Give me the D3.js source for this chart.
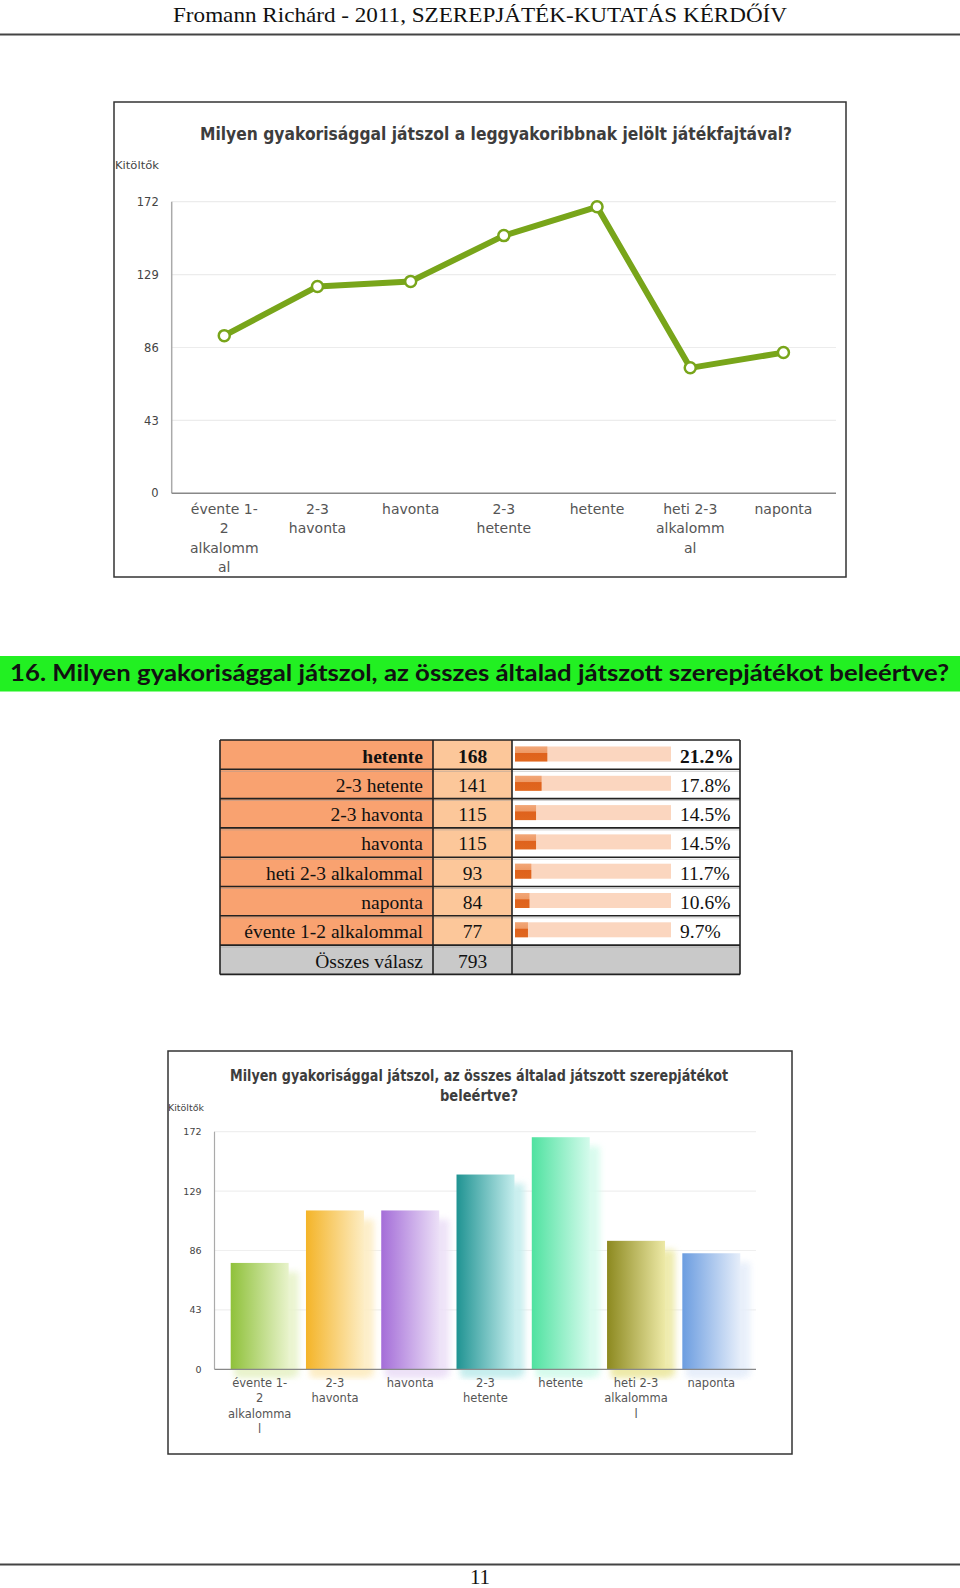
<!DOCTYPE html>
<html>
<head>
<meta charset="utf-8">
<script src="https://cdn.jsdelivr.net/npm/d3@7"></script>
<style>
  html, body { margin: 0; padding: 0; background: #fff; }
  svg { display: block; }
</style>
</head>
<body>
<div id="chart"></div>
<script>
// ---------- DATA ----------
const headerText = "Fromann Richárd - 2011, SZEREPJÁTÉK-KUTATÁS KÉRDŐÍV";
const pageNumber = "11";

// Line chart (leggyakoribbnak jelölt játékfajta)
const lineTitle = "Milyen gyakorisággal játszol a leggyakoribbnak jelölt játékfajtával?";
const lineCategories = ["évente 1-2 alkalommal", "2-3 havonta", "havonta", "2-3 hetente", "hetente", "heti 2-3 alkalommal", "naponta"];
const lineLabelLines = [["évente 1-", "2", "alkalomm", "al"], ["2-3", "havonta"], ["havonta"], ["2-3", "hetente"], ["hetente"], ["heti 2-3", "alkalomm", "al"], ["naponta"]];
const lineValues = [93, 122, 125, 152, 169, 74, 83];

const yTicks = [0, 43, 86, 129, 172];
const yAxisTitle = "Kitöltők";

// Section heading
const sectionTitle = "16. Milyen gyakorisággal játszol, az összes általad játszott szerepjátékot beleértve?";

// Table
const tableLabels = ["hetente", "2-3 hetente", "2-3 havonta", "havonta", "heti 2-3 alkalommal", "naponta", "évente 1-2 alkalommal"];
const tableCounts = [168, 141, 115, 115, 93, 84, 77];
const tablePercents = [21.2, 17.8, 14.5, 14.5, 11.7, 10.6, 9.7];
const totalLabel = "Összes válasz";
const totalCount = 793;

// Bar chart
const barTitleLines = ["Milyen gyakorisággal játszol, az összes általad játszott szerepjátékot", "beleértve?"];
const barCategories = ["évente 1-2 alkalommal", "2-3 havonta", "havonta", "2-3 hetente", "hetente", "heti 2-3 alkalommal", "naponta"];
const barLabelLines = [["évente 1-", "2", "alkalomma", "l"], ["2-3", "havonta"], ["havonta"], ["2-3", "hetente"], ["hetente"], ["heti 2-3", "alkalomma", "l"], ["naponta"]];
const barValues = [77, 115, 115, 141, 168, 93, 84];
const barColorsDark = ["#8fc13a", "#f4b428", "#a46dd8", "#1f9392", "#4fe2a0", "#8c891f", "#6c9de0"];
const barColorsLight = ["#e8f3cb", "#fdedc4", "#ece0f7", "#c4eded", "#d4fbec", "#ede9a6", "#e6eefa"];

// ---------- DRAW ----------
const W = 960, H = 1588;
const svg = d3.select("#chart").append("svg").attr("width", W).attr("height", H)
  .attr("font-family", "DejaVu Sans, Verdana, sans-serif");
const defs = svg.append("defs");

// Header
svg.append("text").attr("x", 480).attr("y", 22).attr("text-anchor", "middle")
  .attr("font-family", "Liberation Serif, Times New Roman, serif").attr("font-size", 22)
  .attr("textLength", 614).attr("lengthAdjust", "spacingAndGlyphs").attr("fill", "#111")
  .text(headerText);
svg.append("line").attr("x1", 0).attr("x2", 960).attr("y1", 34.5).attr("y2", 34.5)
  .attr("stroke", "#444").attr("stroke-width", 2);

// ---------- Line chart ----------
{
  const box = {x: 114, y: 102, w: 732, h: 475};
  const g = svg.append("g");
  g.append("rect").attr("x", box.x).attr("y", box.y).attr("width", box.w).attr("height", box.h)
    .attr("fill", "#fff").attr("stroke", "#333").attr("stroke-width", 1.5);
  g.append("text").attr("x", 496).attr("y", 139.5).attr("text-anchor", "middle")
    .attr("font-size", 17.5).attr("font-weight", "bold").attr("fill", "#3d3d3d")
    .attr("textLength", 592).attr("lengthAdjust", "spacingAndGlyphs").text(lineTitle);
  g.append("text").attr("x", 115).attr("y", 169).attr("font-size", 11).attr("fill", "#444")
    .attr("textLength", 44).attr("lengthAdjust", "spacingAndGlyphs").text(yAxisTitle);

  const x0 = 171.7, x1 = 836;
  const y = d3.scaleLinear().domain([0, 172]).range([493.3, 201.7]);
  const x = d3.scalePoint().domain(lineCategories).range([x0, x1]).padding(0.564);

  g.selectAll(".grid").data(yTicks.filter(t => t > 0)).enter().append("line")
    .attr("x1", x0).attr("x2", x1).attr("y1", d => y(d)).attr("y2", d => y(d))
    .attr("stroke", "#ececec").attr("stroke-width", 1.2);

  const yAxis = d3.axisLeft(y).tickValues(yTicks).tickSize(0).tickPadding(13);
  const ya = g.append("g").attr("transform", `translate(${x0},0)`).call(yAxis);
  ya.select(".domain").remove();
  ya.selectAll("text").attr("font-size", 11.5).attr("fill", "#444").attr("font-family", "DejaVu Sans, sans-serif");

  g.append("line").attr("x1", x0).attr("x2", x0).attr("y1", y(172)).attr("y2", y(0))
    .attr("stroke", "#aaa").attr("stroke-width", 1.5);
  g.append("line").attr("x1", x0).attr("x2", x1).attr("y1", y(0)).attr("y2", y(0))
    .attr("stroke", "#888").attr("stroke-width", 1.5);

  // x labels
  lineCategories.forEach((c, i) => {
    const t = g.append("text").attr("text-anchor", "middle").attr("font-size", 14).attr("fill", "#555");
    lineLabelLines[i].forEach((ln, j) => {
      t.append("tspan").attr("x", x(c)).attr("y", 513.5 + j * 19.5).text(ln);
    });
  });

  const line = d3.line().x((d, i) => x(lineCategories[i])).y(d => y(d));
  g.append("path").datum(lineValues).attr("d", line).attr("fill", "none")
    .attr("stroke", "#78a51a").attr("stroke-width", 6).attr("stroke-linejoin", "round");
  g.selectAll(".pt").data(lineValues).enter().append("circle")
    .attr("cx", (d, i) => x(lineCategories[i])).attr("cy", d => y(d)).attr("r", 5.5)
    .attr("fill", "#fff").attr("stroke", "#78a51a").attr("stroke-width", 2.5);
}

// ---------- Section heading ----------
svg.append("rect").attr("x", 0).attr("y", 656).attr("width", 960).attr("height", 35.5).attr("fill", "#22f022");
svg.append("text").attr("x", 10).attr("y", 681).attr("font-family", "Lato, Open Sans, sans-serif")
  .attr("font-weight", "bold").attr("font-size", 23.5).attr("fill", "#111")
  .attr("textLength", 939).attr("lengthAdjust", "spacingAndGlyphs").text(sectionTitle);

// ---------- Table ----------
{
  const tx = 220, colW = [213, 79, 228], rowH = 29.3, ty = 740;
  const g = svg.append("g").attr("font-family", "Liberation Serif, Times New Roman, serif");
  const grad = defs.append("linearGradient").attr("id", "tbar").attr("x1", 0).attr("x2", 0).attr("y1", 0).attr("y2", 1);
  grad.append("stop").attr("offset", "0%").attr("stop-color", "#f2a778");
  grad.append("stop").attr("offset", "40%").attr("stop-color", "#ee9a66");
  grad.append("stop").attr("offset", "45%").attr("stop-color", "#df621c");
  grad.append("stop").attr("offset", "100%").attr("stop-color", "#e0671f");
  const bw = d3.scaleLinear().domain([2, 100]).range([0, 165]);
  const cx1 = tx + colW[0], cx2 = cx1 + colW[1], cx3 = cx2 + colW[2];

  tableLabels.forEach((lab, i) => {
    const ry = ty + i * rowH;
    const bold = i === 0 ? "bold" : "normal";
    g.append("rect").attr("x", tx).attr("y", ry).attr("width", colW[0]).attr("height", rowH).attr("fill", "#f9a270");
    g.append("rect").attr("x", cx1).attr("y", ry).attr("width", colW[1]).attr("height", rowH).attr("fill", "#fcc79a");
    g.append("rect").attr("x", cx2).attr("y", ry).attr("width", colW[2]).attr("height", rowH).attr("fill", "#fff");
    g.append("rect").attr("x", cx2 + 3).attr("y", ry + 6.5).attr("width", 156).attr("height", 15).attr("fill", "#fbd6bf");
    g.append("rect").attr("x", cx2 + 3).attr("y", ry + 6.5).attr("width", bw(tablePercents[i])).attr("height", 15).attr("fill", "url(#tbar)");
    g.append("text").attr("x", cx1 - 10).attr("y", ry + 22.5).attr("text-anchor", "end").attr("font-size", 19.5)
      .attr("font-weight", bold).attr("fill", "#111").text(lab);
    g.append("text").attr("x", (cx1 + cx2) / 2).attr("y", ry + 22.5).attr("text-anchor", "middle").attr("font-size", 19.5)
      .attr("font-weight", bold).attr("fill", "#111").text(tableCounts[i]);
    g.append("text").attr("x", cx2 + 168).attr("y", ry + 22.5).attr("font-size", 19.5)
      .attr("font-weight", bold).attr("fill", "#111").text(tablePercents[i].toFixed(1) + "%");
  });
  const ry = ty + tableLabels.length * rowH;
  g.append("rect").attr("x", tx).attr("y", ry).attr("width", colW[0] + colW[1] + colW[2]).attr("height", rowH).attr("fill", "#c9c9c9");
  g.append("text").attr("x", cx1 - 10).attr("y", ry + 22.5).attr("text-anchor", "end").attr("font-size", 19.5).attr("fill", "#111").text(totalLabel);
  g.append("text").attr("x", (cx1 + cx2) / 2).attr("y", ry + 22.5).attr("text-anchor", "middle").attr("font-size", 19.5).attr("fill", "#111").text(totalCount);

  const nRows = tableLabels.length + 1;
  for (let r = 0; r <= nRows; r++) {
    const yy = ty + r * rowH;
    g.append("line").attr("x1", tx).attr("x2", cx3).attr("y1", yy).attr("y2", yy).attr("stroke", "#222").attr("stroke-width", 1.6);
    if (r > 0 && r < nRows) {
      g.append("line").attr("x1", tx).attr("x2", cx3).attr("y1", yy + 2).attr("y2", yy + 2).attr("stroke", "#999").attr("stroke-width", 0.8).attr("opacity", 0.6);
    }
  }
  [tx, cx1, cx2, cx3].forEach(xx => {
    g.append("line").attr("x1", xx).attr("x2", xx).attr("y1", ty).attr("y2", ty + nRows * rowH).attr("stroke", "#222").attr("stroke-width", 1.6);
  });
}

// ---------- Bar chart ----------
{
  const box = {x: 168, y: 1051, w: 624, h: 403};
  const g = svg.append("g");
  g.append("rect").attr("x", box.x).attr("y", box.y).attr("width", box.w).attr("height", box.h)
    .attr("fill", "#fff").attr("stroke", "#333").attr("stroke-width", 1.5);
  g.append("text").attr("x", 479).attr("y", 1080.5).attr("text-anchor", "middle")
    .attr("font-size", 15).attr("font-weight", "bold").attr("fill", "#3d3d3d")
    .attr("textLength", 498).attr("lengthAdjust", "spacingAndGlyphs").text(barTitleLines[0]);
  g.append("text").attr("x", 479).attr("y", 1100.5).attr("text-anchor", "middle")
    .attr("font-size", 15).attr("font-weight", "bold").attr("fill", "#3d3d3d")
    .attr("textLength", 78).attr("lengthAdjust", "spacingAndGlyphs").text(barTitleLines[1]);
  g.append("text").attr("x", 168).attr("y", 1111).attr("font-size", 9.5).attr("fill", "#444")
    .attr("textLength", 36).attr("lengthAdjust", "spacingAndGlyphs").text(yAxisTitle);

  const x0 = 214.5, x1 = 756;
  const y = d3.scaleLinear().domain([0, 172]).range([1369.3, 1131.7]);
  const step = 75.27;
  const x = d3.scaleBand().domain(barCategories).range([230.7 - 0.115 * step, 230.7 - 0.115 * step + 7 * step])
    .paddingInner(0.23).paddingOuter(0.115);

  g.selectAll(".grid").data(yTicks.filter(t => t > 0)).enter().append("line")
    .attr("x1", x0).attr("x2", x1).attr("y1", d => y(d)).attr("y2", d => y(d))
    .attr("stroke", "#efefef").attr("stroke-width", 1.2);

  const yAxis = d3.axisLeft(y).tickValues(yTicks).tickSize(0).tickPadding(13);
  const ya = g.append("g").attr("transform", `translate(${x0},0)`).call(yAxis);
  ya.select(".domain").remove();
  ya.selectAll("text").attr("font-size", 9.5).attr("fill", "#444").attr("font-family", "DejaVu Sans, sans-serif");

  const blur = defs.append("filter").attr("id", "blur").attr("x", "-30%").attr("y", "-10%").attr("width", "160%").attr("height", "130%");
  blur.append("feGaussianBlur").attr("stdDeviation", 3);

  barCategories.forEach((c, i) => {
    const gr = defs.append("linearGradient").attr("id", "bg" + i).attr("x1", 0).attr("x2", 1).attr("y1", 0).attr("y2", 0);
    gr.append("stop").attr("offset", "0%").attr("stop-color", barColorsDark[i]);
    gr.append("stop").attr("offset", "100%").attr("stop-color", barColorsLight[i]);
  });

  g.selectAll(".shadow").data(barValues).enter().append("rect")
    .attr("x", (d, i) => x(barCategories[i]) + 6).attr("y", d => y(d) + 9)
    .attr("width", x.bandwidth() + 4).attr("height", d => y(0) - y(d) - 2)
    .attr("fill", (d, i) => barColorsLight[i]).attr("opacity", 0.9).attr("filter", "url(#blur)");
  g.selectAll(".glow").data(barValues).enter().append("rect")
    .attr("x", (d, i) => x(barCategories[i]) + 4).attr("y", y(0) - 4)
    .attr("width", x.bandwidth()).attr("height", 12)
    .attr("fill", (d, i) => barColorsLight[i]).attr("opacity", 0.8).attr("filter", "url(#blur)");
  g.selectAll(".bar").data(barValues).enter().append("rect")
    .attr("x", (d, i) => x(barCategories[i])).attr("y", d => y(d))
    .attr("width", x.bandwidth()).attr("height", d => y(0) - y(d))
    .attr("fill", (d, i) => `url(#bg${i})`);

  g.append("line").attr("x1", x0).attr("x2", x0).attr("y1", y(172)).attr("y2", y(0))
    .attr("stroke", "#aaa").attr("stroke-width", 1.2);
  g.append("line").attr("x1", x0).attr("x2", x1).attr("y1", y(0)).attr("y2", y(0))
    .attr("stroke", "#888").attr("stroke-width", 1.3);

  barCategories.forEach((c, i) => {
    const t = g.append("text").attr("text-anchor", "middle").attr("font-size", 11.5).attr("fill", "#555");
    barLabelLines[i].forEach((ln, j) => {
      t.append("tspan").attr("x", x(c) + x.bandwidth() / 2).attr("y", 1387 + j * 15.3).text(ln);
    });
  });
}

// Footer
svg.append("line").attr("x1", 0).attr("x2", 960).attr("y1", 1564.5).attr("y2", 1564.5)
  .attr("stroke", "#444").attr("stroke-width", 2);
svg.append("text").attr("x", 480).attr("y", 1584).attr("text-anchor", "middle")
  .attr("font-family", "Liberation Serif, Times New Roman, serif").attr("font-size", 21).attr("fill", "#111")
  .text(pageNumber);
</script>
</body>
</html>
